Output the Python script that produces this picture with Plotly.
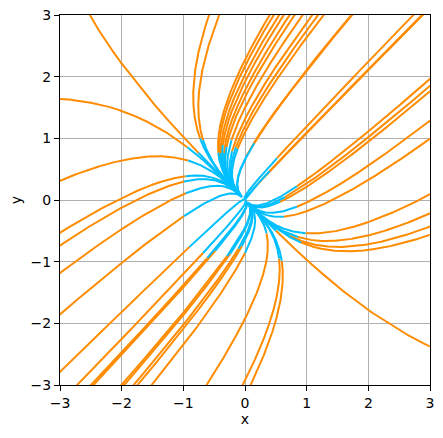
import numpy as np
import plotly.graph_objects as go

# Linear system dx/dt = A x  (node at the origin)
A = np.array([[2.0, 1.0],
              [1.0, 2.0]])

# initial points (read from where blue meets orange)
x0 = [-0.755, -0.934, -0.92, -0.963, -0.99, -0.96, -0.99, -0.90, -0.727, -0.68,
      -0.433, -0.41, -0.392, -0.36, -0.34, -0.30, -0.22, -0.21, -0.15, -0.12,
      0.036, 0.15, 0.52, 0.40, 0.20,
      0.84, 0.645, 0.57, 0.84, 0.63, 0.98, 0.86, 0.72, 0.91, 0.502,
      -0.68, -0.61, -0.48, -0.29, -0.235, -0.107, -0.052, 0.0, 0.35, 0.553, 0.596]
y0 = [0.765, 0.856, 0.64, 0.387, 0.30, 0.11, -0.26, -0.76, 0.995, 0.97,
      0.767, 0.70, 0.758, 0.89, 0.76, 0.86, 0.97, 0.79, 0.85, 0.83,
      0.736, 0.92, 0.68, 0.47, 0.25,
      0.22, 0.045, -0.03, -0.11, -0.27, -0.54, -0.60, -0.58, -0.69, -0.498,
      -0.86, -0.94, -0.82, -0.91, -0.865, -0.79, -0.748, -0.86, -0.54, -0.948, -0.985]

T_BACK = 2.0
T_FWD = 3.0
LIM = 3.3

evals, evecs = np.linalg.eig(A)


def trajectory(px, py, t):
    c = np.linalg.solve(evecs, np.array([px, py]))
    coef = c[:, None] * np.exp(np.outer(evals, t))
    pts = evecs @ coef
    xs, ys = pts[0], pts[1]
    out = np.where((np.abs(xs) > LIM) | (np.abs(ys) > LIM))[0]
    if len(out):
        k = out[0] + 1
        xs, ys = xs[:k], ys[:k]
    return xs, ys


t_f = np.linspace(0, T_FWD, 3000)
t_b = np.linspace(0, -T_BACK, 1500)

ox, oy, bx, by = [], [], [], []
for px, py in zip(x0, y0):
    xs, ys = trajectory(px, py, t_f)
    ox += list(xs) + [None]
    oy += list(ys) + [None]
    xs, ys = trajectory(px, py, t_b)
    bx += list(xs) + [None]
    by += list(ys) + [None]

fig = go.Figure()
fig.add_trace(go.Scatter(x=ox, y=oy, mode="lines",
                         line=dict(color="#FF8C00", width=2), hoverinfo="skip"))
fig.add_trace(go.Scatter(x=bx, y=by, mode="lines",
                         line=dict(color="#00BFFF", width=2), hoverinfo="skip"))

axis_common = dict(
    range=[-3, 3], tickmode="array", tickvals=[-3, -2, -1, 0, 1, 2, 3],
    showgrid=True, gridcolor="#b0b0b0", gridwidth=1,
    zeroline=False, showline=True, linecolor="black", linewidth=1,
    mirror=True, ticks="outside", ticklen=5, tickcolor="black",
    tickfont=dict(family="DejaVu Sans", size=14, color="black"),
    ticklabeloverflow="allow",
    automargin=False,
)

# page body adds ~8px offset; margins compensate so plot area sits at 60..430 x 15..385
fig.update_layout(
    width=435, height=430,
    margin=dict(l=52, r=13, t=7, b=53),
    plot_bgcolor="white", paper_bgcolor="white",
    showlegend=False,
    font=dict(family="DejaVu Sans", size=14, color="black"),
    xaxis=dict(axis_common, title=dict(text="x", standoff=4,
                                        font=dict(family="DejaVu Sans", size=14))),
    yaxis=dict(axis_common, title=dict(text="y", standoff=6,
                                        font=dict(family="DejaVu Sans", size=14))),
)

fig.write_html("out.html")
